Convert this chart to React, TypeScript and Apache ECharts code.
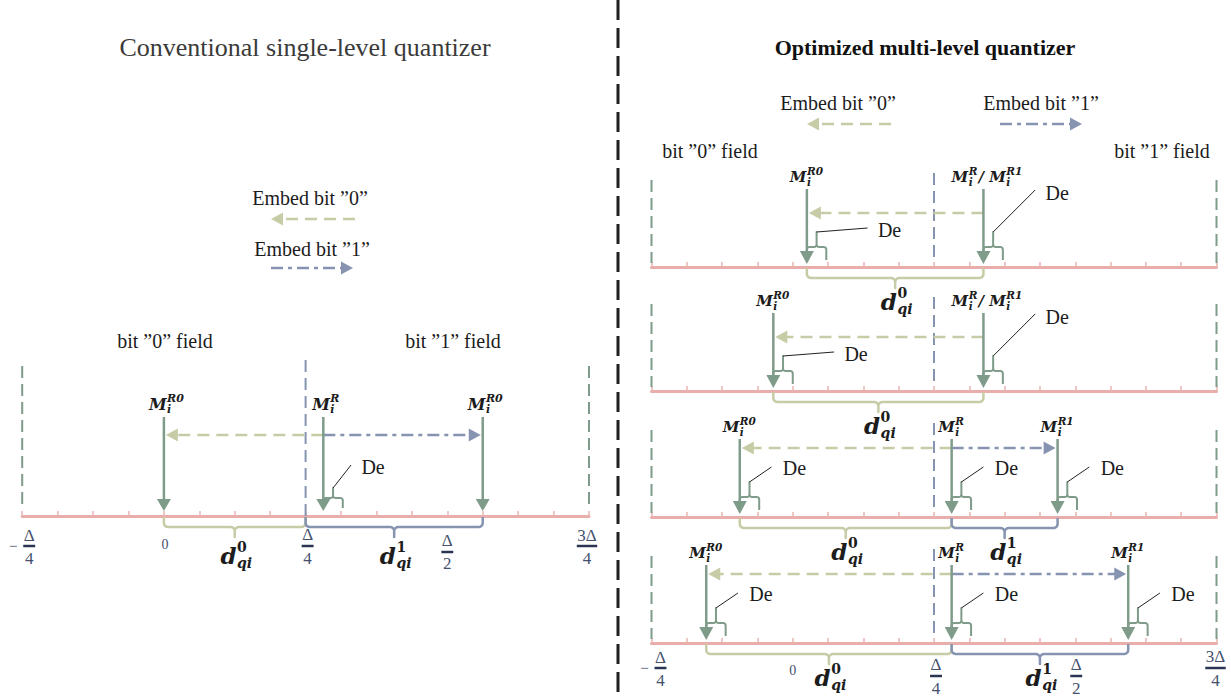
import React, { useEffect, useRef } from 'react';
import * as echarts from 'echarts';

// ---------------- data (positions in units of Δ/16) ----------------
const AXIS_MIN = -4; // −Δ/4
const AXIS_MAX = 12; // 3Δ/4
const AXIS_STEP = 1;
const FIELD_BOUNDARY = 4; // Δ/4
const DE_WIDTH = 0.55;

const tickValues = [-4, 0, 4, 8, 12];
const tickSigns = ['−', '', '', '', ''];
const tickNumerators = ['Δ', '0', 'Δ', 'Δ', '3Δ'];
const tickDenominators = ['4', '', '4', '2', '4'];

// conventional single-level quantizer
const convR0Left = 0;
const convR = 4.5;
const convR0Right = 9;

// optimized multi-level quantizer (4 rows)
const optR0 = [0.4, -0.55, -1.5, -2.45];
const optR = [5.4, 5.4, 4.5, 4.5];
const optR1 = [5.4, 5.4, 7.5, 9.5];

const titleLeft = 'Conventional single-level quantizer';
const titleRight = 'Optimized multi-level quantizer';
const embed0 = 'Embed bit ”0”';
const embed1 = 'Embed bit ”1”';
const field0 = 'bit ”0” field';
const field1 = 'bit ”1” field';
const deText = 'De';

// ---------------- styles ----------------
const COL = {
  axis: '#e9aeac',
  tick: '#e9b5b2',
  arrow: '#7f9b89',
  khaki: '#c7cca6',
  blue: '#8694b1',
  fracText: '#44506e',
  fracBar: '#2b3452',
  text: '#1c1c1c',
  title: '#3a3a3a',
  leader: '#222222',
  divider: '#1f1f1f',
};
const SERIF = '"Liberation Serif", "Times New Roman", serif';
const MATH = '"DejaVu Serif", serif';

const LAYOUT_LEFT = {
  endTop: -150, endBottom: -6, blueTop: -156,
  labelY: -112, labelDx: 3, mSize: 16, sSize: 11, supDy: -6, subDy: 5.5,
  arrowTop: -99, tip: -5, headLen: 12, headHalf: 7,
  deTop: -18, deLeg: -8, deStub: -28,
  braceBar: 11, braceStub: 21, dY: 39, dSize: 23, dsSize: 14,
};
const LAYOUT_RIGHT = {
  endTop: -87, endBottom: -4, blueTop: -94,
  labelY: -90, labelDx: 0, mSize: 15, sSize: 10.5, supDy: -6.5, subDy: 5,
  arrowTop: -78, tip: -3, headLen: 13, headHalf: 7,
  deTop: -20, deLeg: -7, deStub: -35,
  braceBar: 11, braceStub: 21, dY: 34, dSize: 23, dsSize: 14,
};
const CALLOUTS: Record<string, { lx: number; ly: number; tx: number; ty: number }> = {
  short: { lx: 18, ly: -23, tx: 40, ty: -21 },
  flat: { lx: 51, ly: -4, tx: 73, ty: -2 },
  tall: { lx: 42, ly: -42, tx: 64, ty: -39 },
  diag: { lx: 22, ly: -15, tx: 45, ty: -14 },
};
const TICK_LAYOUT_LEFT = [
  { dx: 7, num: 19, bar: 30, den: 42 },
  { dx: 1, num: 28, bar: 0, den: 0 },
  { dx: 2, num: 18, bar: 30, den: 42 },
  { dx: 0, num: 24, bar: 36, den: 47 },
  { dx: -2, num: 19, bar: 30, den: 42 },
];
const TICK_LAYOUT_RIGHT = [
  { dx: 9, num: 14, bar: 25, den: 37 },
  { dx: 0, num: 27, bar: 0, den: 0 },
  { dx: 2, num: 21, bar: 33, den: 45 },
  { dx: 1, num: 21, bar: 33, den: 45 },
  { dx: -1, num: 13, bar: 25, den: 37 },
];

// ---------------- helpers ----------------
let measureCtx: CanvasRenderingContext2D | null = null;
function tw(text: string, size: number, family: string, weight = 'normal', style = 'normal') {
  if (!measureCtx && typeof document !== 'undefined') {
    measureCtx = document.createElement('canvas').getContext('2d');
  }
  if (!measureCtx) return text.length * size * 0.55;
  measureCtx.font = `${style} ${weight} ${size}px ${family}`;
  return measureCtx.measureText(text).width;
}

function T(text: string, x: number, y: number, size: number, family: string, o: any = {}) {
  const align = o.align || 'left';
  const va = o.va || 'middle';
  return {
    type: 'text', x, y, silent: true,
    style: {
      text, fill: o.fill || COL.text, fontSize: size, fontFamily: family,
      fontWeight: o.weight || 'normal', fontStyle: o.style || 'normal',
      align, verticalAlign: va, textAlign: align, textVerticalAlign: va,
    },
  };
}

type MPart = { base?: string; sup?: string; sub?: string; supUpright?: boolean; plain?: string };

function mathLayout(parts: MPart[], size: number, ssize: number, supDy: number, subDy: number, fill: string) {
  const els: any[] = [];
  let x = 0;
  for (const p of parts) {
    if (p.plain !== undefined) {
      els.push(T(p.plain, x, 0, size, MATH, { weight: 'bold', style: 'italic', fill }));
      x += tw(p.plain, size, MATH, 'bold', 'italic');
      continue;
    }
    const base = p.base || '';
    els.push(T(base, x, 0, size, MATH, { weight: 'bold', style: 'italic', fill }));
    x += tw(base, size, MATH, 'bold', 'italic');
    let w = 0;
    if (p.sup) {
      const st = p.supUpright ? 'normal' : 'italic';
      els.push(T(p.sup, x + 0.5, supDy, ssize, MATH, { weight: 'bold', style: st, fill }));
      w = Math.max(w, tw(p.sup, ssize, MATH, 'bold', st) + 0.5);
    }
    if (p.sub) {
      els.push(T(p.sub, x + 0.5, subDy, ssize, MATH, { weight: 'bold', style: 'italic', fill }));
      w = Math.max(w, tw(p.sub, ssize, MATH, 'bold', 'italic') + 0.5);
    }
    x += w + 1;
  }
  return { els, width: x };
}

function placeMath(parts: MPart[], cx: number, cy: number, size: number, ssize: number, supDy: number, subDy: number, fill = COL.text) {
  const m = mathLayout(parts, size, ssize, supDy, subDy, fill);
  const x0 = cx - m.width / 2;
  return m.els.map((e) => ({ ...e, x: e.x + x0, y: e.y + cy }));
}

function arc(cx: number, cy: number, r: number, a0: number, a1: number, n = 5) {
  const pts: number[][] = [];
  for (let i = 0; i <= n; i++) {
    const a = ((a0 + ((a1 - a0) * i) / n) * Math.PI) / 180;
    pts.push([cx + r * Math.cos(a), cy + r * Math.sin(a)]);
  }
  return pts;
}

// curly bracket between x1 and x2, from yBase to bar at yBar, with a stub reaching yStub
function bracePts(x1: number, x2: number, yBase: number, yBar: number, yStub: number, r: number) {
  const s = yBar > yBase ? 1 : -1;
  const xm = (x1 + x2) / 2;
  const pts: number[][] = [[x1, yBase]];
  pts.push(...arc(x1 + r, yBar - s * r, r, 180, s > 0 ? 90 : 270));
  pts.push(...arc(xm - r, yBar + s * r, r, s > 0 ? 270 : 90, s > 0 ? 360 : 0));
  pts.push([xm, yStub]);
  pts.push(...arc(xm + r, yBar + s * r, r, 180, s > 0 ? 270 : 90));
  pts.push(...arc(x2 - r, yBar - s * r, r, s > 0 ? 90 : 270, s > 0 ? 0 : 360));
  pts.push([x2, yBase]);
  return pts;
}

const M_R0: MPart[] = [{ base: 'M', sup: 'R0', sub: 'i' }];
const M_R: MPart[] = [{ base: 'M', sup: 'R', sub: 'i' }];
const M_R1: MPart[] = [{ base: 'M', sup: 'R1', sub: 'i' }];
const M_RR1: MPart[] = [{ base: 'M', sup: 'R', sub: 'i' }, { plain: '/ ' }, { base: 'M', sup: 'R1', sub: 'i' }];

interface Marker { v: number; label: MPart[]; dx: number; de?: string }
interface Span { from: number; to: number; kind: 0 | 1 }
interface RowCfg {
  L: typeof LAYOUT_LEFT; embedY: number; blueBottom: number;
  markers: Marker[]; embeds: Span[]; braces: Span[]; ticks?: typeof TICK_LAYOUT_LEFT;
}

function makeRenderer(cfg: RowCfg) {
  return (_params: any, api: any) => {
    const L = cfg.L;
    const ay = api.coord([0, 0])[1];
    const X = (v: number) => api.coord([v, 0])[0];
    const ch: any[] = [];
    const ln = (x1: number, y1: number, x2: number, y2: number, stroke: string, lineWidth: number, lineDash?: number[]) =>
      ch.push({ type: 'line', silent: true, shape: { x1, y1, x2, y2 }, style: { stroke, lineWidth, fill: 'none', lineDash: lineDash || null } });
    const poly = (points: number[][], fill: string) =>
      ch.push({ type: 'polygon', silent: true, shape: { points }, style: { fill, stroke: 'none' } });
    const pl = (points: number[][], stroke: string, lineWidth: number) =>
      ch.push({ type: 'polyline', silent: true, shape: { points }, style: { stroke, lineWidth, fill: 'none', lineJoin: 'round' } });

    // field boundaries
    ln(X(AXIS_MIN), ay + L.endTop, X(AXIS_MIN), ay + L.endBottom, COL.arrow, 2, [12, 6]);
    ln(X(AXIS_MAX), ay + L.endTop, X(AXIS_MAX), ay + L.endBottom, COL.arrow, 2, [12, 6]);
    ln(X(FIELD_BOUNDARY), ay + L.blueTop, X(FIELD_BOUNDARY), ay + cfg.blueBottom, COL.blue, 2, [12, 6]);

    // braces with d labels
    for (const b of cfg.braces) {
      const x1 = X(b.from);
      const x2 = X(b.to);
      pl(bracePts(x1, x2, ay + 1, ay + L.braceBar, ay + L.braceStub, 4), b.kind ? COL.blue : COL.khaki, 2.5);
      ch.push(...placeMath([{ base: 'd', sup: String(b.kind), sub: 'qi', supUpright: true }], (x1 + x2) / 2 + 2, ay + L.dY, L.dSize, L.dsSize, -8, 7.5));
    }

    // embedding arrows
    for (const e of cfg.embeds) {
      const xf = X(e.from);
      const xt = X(e.to);
      const dir = xt < xf ? -1 : 1;
      const tipX = xt - dir * 2;
      const y = ay + cfg.embedY;
      const col = e.kind ? COL.blue : COL.khaki;
      ln(xf, y, tipX - dir * 11, y, col, 2.5, e.kind ? [12, 5, 4, 5] : [12, 7]);
      poly([[tipX, y], [tipX - dir * 12, y - 6.5], [tipX - dir * 12, y + 6.5]], col);
    }

    // quantization points
    for (const m of cfg.markers) {
      const x = X(m.v);
      ln(x, ay + L.arrowTop, x, ay + L.tip - L.headLen + 1, COL.arrow, 2.5);
      poly([[x - L.headHalf, ay + L.tip - L.headLen], [x + L.headHalf, ay + L.tip - L.headLen], [x, ay + L.tip]], COL.arrow);
      ch.push(...placeMath(m.label, x + m.dx, ay + L.labelY, L.mSize, L.sSize, L.supDy, L.subDy));
      if (m.de) {
        const xb = X(m.v + DE_WIDTH);
        const xs = (x + xb) / 2;
        pl(bracePts(x, xb, ay + L.deLeg, ay + L.deTop, ay + L.deStub, 2.5), COL.arrow, 2);
        const c = CALLOUTS[m.de];
        ln(xs, ay + L.deStub, xs + c.lx, ay + L.deStub + c.ly, COL.leader, 1);
        ch.push(T(deText, xs + c.tx, ay + L.deStub + c.ty, 20, SERIF, { align: 'center' }));
      }
    }

    // fraction tick labels
    if (cfg.ticks) {
      tickValues.forEach((v, i) => {
        const t = cfg.ticks![i];
        const cx = X(v) + t.dx;
        if (!tickDenominators[i]) {
          ch.push(T(tickNumerators[i], cx, ay + t.num, 14, SERIF, { fill: COL.fracText, align: 'center' }));
          return;
        }
        const num = tickNumerators[i];
        ch.push(T(num, cx, ay + t.num, 17, SERIF, { fill: COL.fracText, align: 'center' }));
        const bw = tw(num, 17, SERIF) + 1;
        ch.push({ type: 'rect', silent: true, shape: { x: cx - bw / 2, y: ay + t.bar - 1.25, width: bw, height: 2.5 }, style: { fill: COL.fracBar } });
        ch.push(T(tickDenominators[i], cx, ay + t.den, 17, SERIF, { fill: COL.fracText, align: 'center' }));
        if (tickSigns[i]) ch.push(T(tickSigns[i], cx - 16, ay + t.bar, 15, SERIF, { fill: COL.fracText, align: 'center' }));
      });
    }
    return { type: 'group', children: ch };
  };
}

function legendArrow(x1: number, x2: number, y: number, kind: 0 | 1) {
  // arrow pointing from x1 toward x2 (tip at x2)
  const dir = x2 < x1 ? -1 : 1;
  const col = kind ? COL.blue : COL.khaki;
  return [
    { type: 'line', silent: true, shape: { x1, y1: y, x2: x2 - dir * 11, y2: y }, style: { stroke: col, fill: 'none', lineWidth: 2.5, lineDash: kind ? [12, 5, 4, 5] : [12, 7] } },
    { type: 'polygon', silent: true, shape: { points: [[x2, y], [x2 - dir * 12, y - 6.5], [x2 - dir * 12, y + 6.5]] }, style: { fill: col, stroke: 'none' } },
  ];
}

export default function App() {
  const ref = useRef<HTMLDivElement>(null);
  useEffect(() => {
    if (!ref.current) return;
    const chart = echarts.init(ref.current, undefined, { renderer: 'svg' });

    const rows: RowCfg[] = [];
    rows.push({
      L: LAYOUT_LEFT, embedY: -81, blueBottom: 11,
      markers: [
        { v: convR0Left, label: M_R0, dx: LAYOUT_LEFT.labelDx },
        { v: convR, label: M_R, dx: LAYOUT_LEFT.labelDx, de: 'short' },
        { v: convR0Right, label: M_R0, dx: LAYOUT_LEFT.labelDx },
      ],
      embeds: [
        { from: convR, to: convR0Left, kind: 0 },
        { from: convR, to: convR0Right, kind: 1 },
      ],
      braces: [
        { from: convR0Left, to: FIELD_BOUNDARY, kind: 0 },
        { from: FIELD_BOUNDARY, to: convR0Right, kind: 1 },
      ],
      ticks: TICK_LAYOUT_LEFT,
    });
    for (let i = 0; i < optR0.length; i++) {
      const separate = optR1[i] !== optR[i];
      const markers: Marker[] = [{ v: optR0[i], label: M_R0, dx: 0, de: separate ? 'diag' : 'flat' }];
      if (separate) {
        markers.push({ v: optR[i], label: M_R, dx: 0, de: 'diag' });
        markers.push({ v: optR1[i], label: M_R1, dx: 0, de: 'diag' });
      } else {
        markers.push({ v: optR[i], label: M_RR1, dx: 4, de: 'tall' });
      }
      const embeds: Span[] = [{ from: optR[i], to: optR0[i], kind: 0 }];
      const braces: Span[] = [{ from: optR0[i], to: optR[i], kind: 0 }];
      if (separate) {
        embeds.push({ from: optR[i], to: optR1[i], kind: 1 });
        braces.push({ from: optR[i], to: optR1[i], kind: 1 });
      }
      rows.push({
        L: LAYOUT_RIGHT, embedY: separate ? -69 : -54, blueBottom: -4,
        markers, embeds, braces, ticks: i === optR0.length - 1 ? TICK_LAYOUT_RIGHT : undefined,
      });
    }

    const grids = [
      { left: 22.2, top: 316, width: 566.8, height: 200 },
      { left: 651.5, top: 167, width: 565, height: 100 },
      { left: 651.5, top: 291, width: 565, height: 100 },
      { left: 651.5, top: 417, width: 565, height: 100 },
      { left: 651.5, top: 543, width: 565, height: 100 },
    ];

    const graphic: any[] = [
      { type: 'line', silent: true, shape: { x1: 618, y1: 0, x2: 618, y2: 698 }, style: { stroke: COL.divider, fill: 'none', lineWidth: 3, lineDash: [20, 8] } },
      T(titleLeft, 305, 47, 26, SERIF, { align: 'center', fill: COL.title }),
      T(titleRight, 925, 47, 22, SERIF, { align: 'center', weight: 'bold', fill: '#111' }),
      T(field0, 165, 341, 20, SERIF, { align: 'center' }),
      T(field1, 453, 341, 20, SERIF, { align: 'center' }),
      T(field0, 710, 151, 20, SERIF, { align: 'center' }),
      T(field1, 1162, 151, 20, SERIF, { align: 'center' }),
      T(embed0, 310, 198, 20, SERIF, { align: 'center' }),
      ...legendArrow(355, 271, 219, 0),
      T(embed1, 312, 249, 20, SERIF, { align: 'center' }),
      ...legendArrow(271, 353, 268, 1),
      T(embed0, 838, 103, 20, SERIF, { align: 'center' }),
      ...legendArrow(891, 807, 124, 0),
      T(embed1, 1041, 103, 20, SERIF, { align: 'center' }),
      ...legendArrow(1000, 1082, 124, 1),
    ];

    chart.setOption({
      animation: false,
      backgroundColor: '#ffffff',
      grid: grids,
      xAxis: grids.map((_, i) => ({
        gridIndex: i, type: 'value', min: AXIS_MIN, max: AXIS_MAX, interval: AXIS_STEP,
        axisLine: { show: true, lineStyle: { color: COL.axis, width: 3 } },
        axisTick: { show: true, inside: true, length: 5, lineStyle: { color: COL.tick, width: 1.5 } },
        axisLabel: { show: false }, splitLine: { show: false },
      })),
      yAxis: grids.map((_, i) => ({ gridIndex: i, type: 'value', min: 0, max: 100, show: false })),
      series: rows.map((r, i) => ({
        type: 'custom', xAxisIndex: i, yAxisIndex: i, clip: false, silent: true, z: 5,
        data: [[0, 0]], renderItem: makeRenderer(r),
      })),
      graphic,
    });
    return () => chart.dispose();
  }, []);
  return <div ref={ref} style={{ position: 'absolute', left: 0, top: 0, width: 1231, height: 698, background: '#fff' }} />;
}
